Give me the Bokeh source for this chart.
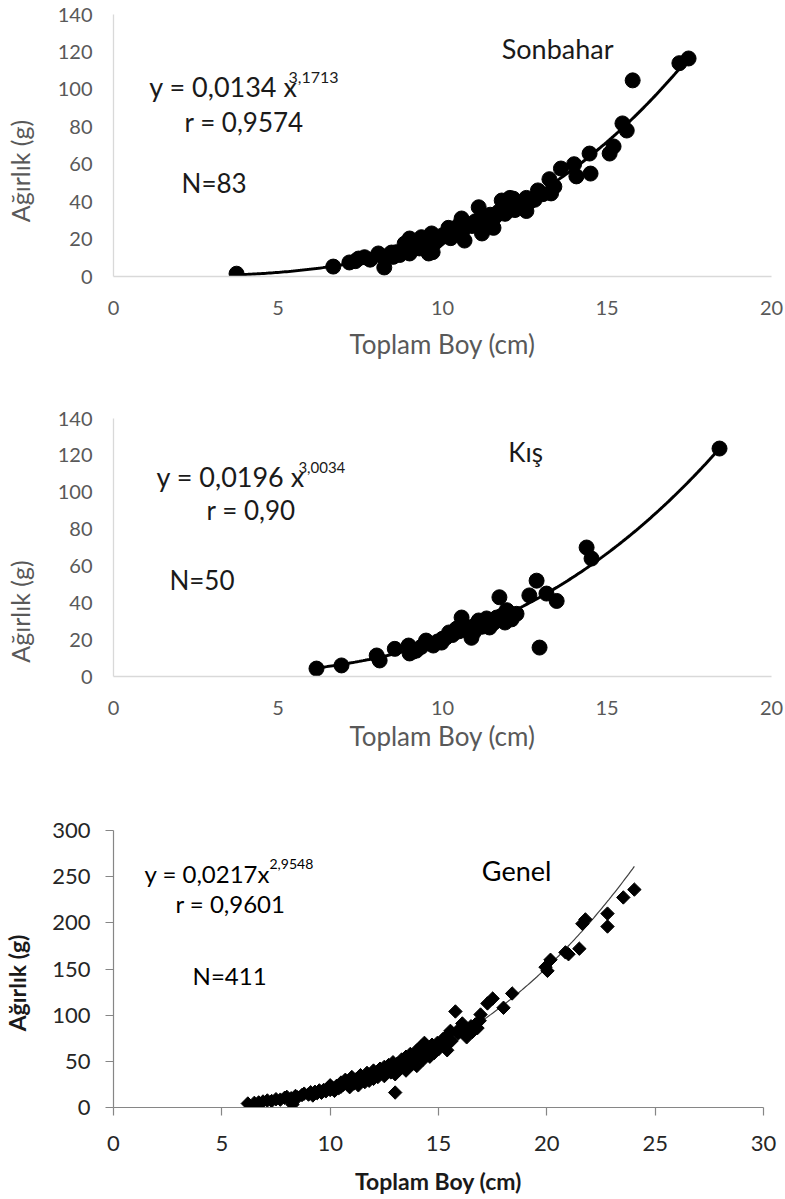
from bokeh.plotting import figure
from bokeh.layouts import column
from bokeh.models import Label, FixedTicker, Range1d
from bokeh.embed import file_html
from bokeh.resources import INLINE
import numpy as np

FONT = "Lato"

# ---------------- data: Sonbahar (autumn) ----------------
son_x = [3.74, 6.68, 7.17, 7.35, 7.45, 7.63, 7.8, 8.05, 8.15, 8.23, 8.3, 8.45, 8.5, 8.6, 8.7,
         8.85, 8.9, 9.0, 9.0, 9.1, 9.2, 9.25, 9.3, 9.36, 9.45, 9.5, 9.58, 9.67, 9.7, 9.8,
         9.9, 10.0, 10.1, 10.18, 10.25, 10.3, 10.4, 10.5, 10.58, 10.6, 10.67, 10.75, 10.9, 11.0,
         11.1, 11.15, 11.2, 11.25, 11.35, 11.45, 11.55, 11.6, 11.7, 11.8, 11.85, 11.9, 12.0, 12.05,
         12.15, 12.2, 12.3, 12.4, 12.55, 12.55, 12.65, 12.8, 12.9, 13.05, 13.25, 13.3, 13.4, 13.6,
         14.0, 14.07, 14.47, 14.5, 15.08, 15.2, 15.47, 15.6, 15.78, 17.2, 17.48]
son_y = [1.5, 5.3, 7.5, 8.2, 9.6, 10.3, 9.0, 12.3, 11.0, 4.8, 10.0, 12.8, 10.5, 13.0, 11.5,
         17.6, 14.0, 20.3, 12.3, 16.0, 15.5, 18.0, 15.0, 21.0, 19.0, 17.0, 12.3, 23.0, 13.0, 18.5,
         20.0, 22.0, 21.5, 26.0, 20.5, 23.0, 25.5, 27.5, 31.0, 24.0, 19.2, 28.0, 27.0, 29.5,
         37.0, 28.5, 23.0, 31.6, 30.0, 33.0, 26.0, 32.0, 34.5, 40.6, 36.0, 33.5, 37.0, 42.0,
         41.6, 35.5, 39.0, 38.0, 42.0, 35.0, 40.0, 41.0, 46.0, 44.0, 52.0, 44.4, 48.0, 57.7,
         60.0, 53.5, 65.7, 55.0, 65.7, 69.5, 81.8, 78.0, 104.8, 114.0, 116.5]

# ---------------- data: Kış (winter) ----------------
kis_x = [6.17, 6.93, 8.0, 8.09, 8.55, 8.97, 9.0, 9.1, 9.2, 9.35, 9.5, 9.6, 9.72, 9.85, 9.97,
         10.0, 10.1, 10.2, 10.3, 10.43, 10.5, 10.58, 10.67, 10.75, 10.82, 10.88, 10.95, 11.0, 11.1,
         11.2, 11.34, 11.43, 11.5, 11.55, 11.65, 11.73, 11.8, 11.9, 11.95, 12.0, 12.1, 12.25,
         12.64, 12.86, 12.95, 13.16, 13.47, 14.38, 14.53, 18.42]
kis_y = [4.3, 6.0, 11.4, 8.7, 15.0, 16.8, 12.5, 13.5, 14.0, 16.0, 19.5, 18.0, 16.8, 19.0, 18.4,
         20.5, 21.0, 23.9, 22.5, 26.0, 24.5, 32.0, 27.7, 25.0, 23.9, 21.0, 24.0, 28.0, 30.4,
         27.0, 31.5, 26.6, 30.5, 29.0, 32.0, 43.0, 33.0, 29.3, 36.0, 35.0, 31.0, 34.0,
         44.0, 52.0, 15.7, 45.0, 41.0, 70.0, 64.0, 123.7]

# ---------------- data: Genel (overall) ----------------
gen_x = [6.2, 6.5, 6.7, 6.9, 7.1, 7.3, 7.5, 7.7, 7.9, 8.0, 8.2, 8.26, 8.4, 8.5, 8.7, 8.8, 9.0,
         9.1, 9.2, 9.3, 9.4, 9.5, 9.6, 9.7, 9.8, 9.9, 10.0, 10.0, 10.1, 10.2, 10.3, 10.4, 10.5,
         10.5, 10.6, 10.7, 10.8, 10.9, 11.0, 11.0, 11.1, 11.2, 11.3, 11.4, 11.4, 11.5, 11.6, 11.7,
         11.8, 11.8, 11.9, 12.0, 12.0, 12.1, 12.2, 12.3, 12.4, 12.5, 12.5, 12.6, 12.7, 12.8, 12.9,
         13.0, 13.0, 13.0, 13.1, 13.2, 13.3, 13.4, 13.5, 13.5, 13.6, 13.7, 13.8, 13.9, 14.0, 14.0,
         14.1, 14.2, 14.3, 14.35, 14.4, 14.5, 14.6, 14.7, 14.8, 14.95, 15.0, 15.2, 15.3, 15.4,
         15.4, 15.55, 15.6, 15.78, 15.9, 16.0, 16.1, 16.2, 16.3, 16.5, 16.57, 16.7, 16.8, 16.9,
         16.94, 17.26, 17.5, 18.0, 18.4, 19.94, 20.03, 20.17, 20.86, 21.0, 21.5, 21.64, 21.78,
         22.8, 22.8, 23.53, 24.04]
gen_y = [4.3, 5.0, 5.5, 6.5, 7.6, 7.0, 9.0, 8.5, 10.5, 11.5, 10.0, 3.3, 12.5, 11.0, 13.5, 15.0, 14.0,
         16.5, 13.0, 17.0, 15.5, 18.5, 16.0, 19.0, 17.5, 21.0, 19.0, 24.0, 21.5, 18.0, 23.5, 21.0, 27.0,
         22.5, 24.5, 30.0, 25.0, 22.0, 28.5, 33.0, 26.0, 30.5, 24.0, 35.0, 29.0, 31.5, 27.5, 37.5,
         33.0, 29.0, 35.5, 40.0, 31.0, 36.5, 33.0, 42.0, 37.5, 44.0, 34.0, 40.5, 46.0, 38.0, 49.0,
         43.0, 16.2, 36.0, 47.5, 41.0, 52.0, 45.0, 55.0, 40.0, 49.5, 58.0, 47.0, 54.0, 62.0, 45.0,
         57.0, 66.0, 52.0, 70.0, 60.0, 65.0, 55.0, 68.0, 59.0, 70.0, 63.0, 74.0, 66.0, 78.0,
         62.0, 83.0, 72.0, 104.0, 80.0, 86.0, 91.0, 84.0, 76.0, 88.0, 82.0, 90.0, 86.0, 94.0,
         100.7, 112.7, 118.0, 108.0, 123.5, 152.0, 148.0, 160.0, 168.0, 166.0, 172.0, 199.0, 203.7,
         210.0, 196.0, 227.5, 236.0]

# trend-line coefficients shown on the chart
son_a, son_b = 0.0134, 3.1713
kis_a, kis_b = 0.0196, 3.0034
gen_a, gen_b = 0.0217, 2.9548

x_label = "Toplam Boy (cm)"
y_label = "Ağırlık (g)"
NBSP = "\u00a0"


def base_fig(frame_w, frame_h, left, top, right, bottom, xmax, ymax, xstep, ystep):
    p = figure(frame_width=frame_w, frame_height=frame_h,
               min_border_left=left, min_border_top=top,
               min_border_right=right, min_border_bottom=bottom,
               x_range=Range1d(0, xmax), y_range=Range1d(0, ymax),
               toolbar_location=None, output_backend="svg")
    p.outline_line_color = None
    p.grid.visible = False
    p.xaxis.ticker = FixedTicker(ticks=list(range(0, xmax + 1, xstep)))
    p.yaxis.ticker = FixedTicker(ticks=list(range(0, ymax + 1, ystep)))
    p.xaxis.axis_label = x_label
    for ax in (p.xaxis, p.yaxis):
        ax.major_label_text_font = FONT
        ax.axis_label_text_font = FONT
        ax.axis_label_text_font_style = "normal"
        ax.minor_tick_line_color = None
    return p


def add_text(p, x, y, txt, size, color="#1a1a1a"):
    p.add_layout(Label(x=x, y=y, text=txt, text_font=FONT, text_font_size=size,
                       text_color=color, text_baseline="alphabetic", text_align="left"))


def style_light(p):
    for ax in (p.xaxis, p.yaxis):
        ax.axis_line_color = "#d9d9d9"
        ax.axis_line_width = 1.3
        ax.major_tick_line_color = None
        ax.major_tick_out = 0
        ax.major_tick_in = 0
        ax.major_label_text_color = "#595959"
        ax.major_label_text_font_size = "20px"
        ax.axis_label_text_color = "#595959"
        ax.axis_label_text_font_size = "26px"
    p.yaxis.axis_label_text_font_size = "25px"
    p.xaxis.major_label_standoff = 24
    p.yaxis.major_label_standoff = 21
    p.yaxis.axis_label_standoff = 20


# ---------------- figure 1 : Sonbahar ----------------
p1 = base_fig(658, 262, 108, 14, 14, 104, 20, 140, 5, 20)
style_light(p1)
p1.xaxis.axis_label_standoff = 10
p1.yaxis.axis_label = y_label + NBSP * 8
cx = np.linspace(min(son_x), max(son_x), 200)
p1.line(cx, son_a * cx ** son_b, line_color="black", line_width=3)
p1.scatter(son_x, son_y, marker="circle", size=15, fill_color="black", line_color="black")
add_text(p1, 1.09, 101.5, "y = 0,0134 x", "27px")
add_text(p1, 5.32, 106.6, "3,1713", "16px")
add_text(p1, 2.16, 82.4, "r = 0,9574", "26px")
add_text(p1, 2.07, 49.9, "N=83", "26px")
add_text(p1, 11.8, 121.7, "Sonbahar", "27px")

# ---------------- figure 2 : Kış ----------------
p2 = base_fig(658, 258, 108, 38, 14, 104, 20, 140, 5, 20)
style_light(p2)
p2.xaxis.axis_label_standoff = 2
p2.yaxis.axis_label = y_label + NBSP * 20
cx = np.linspace(min(kis_x), max(kis_x), 200)
p2.line(cx, kis_a * cx ** kis_b, line_color="black", line_width=3)
p2.scatter(kis_x, kis_y, marker="circle", size=15, fill_color="black", line_color="black")
add_text(p2, 1.31, 108.5, "y = 0,0196 x", "27px")
add_text(p2, 5.62, 113.4, "3,0034", "15px")
add_text(p2, 2.83, 90.2, "r = 0,90", "26px")
add_text(p2, 1.70, 52.1, "N=50", "26px")
add_text(p2, 12.0, 121.7, "Kış", "26px")

# ---------------- figure 3 : Genel ----------------
p3 = base_fig(650, 277, 112, 50, 18, 90, 30, 300, 5, 50)
for ax in (p3.xaxis, p3.yaxis):
    ax.axis_line_color = "#868686"
    ax.axis_line_width = 1.2
    ax.major_tick_line_color = "#868686"
    ax.major_tick_line_width = 1.2
    ax.major_tick_out = 8
    ax.major_tick_in = 0
    ax.major_label_text_color = "#262626"
    ax.major_label_text_font_size = "22px"
    ax.axis_label_text_color = "#1a1a1a"
    ax.axis_label_text_font_size = "23px"
    ax.axis_label_text_font_style = "bold"
p3.xaxis.major_label_standoff = 20
p3.xaxis.axis_label_standoff = 13
p3.yaxis.major_label_standoff = 15
p3.yaxis.axis_label_standoff = 18
p3.yaxis.axis_label = y_label + NBSP * 5
cx = np.linspace(min(gen_x), max(gen_x), 200)
p3.line(cx, gen_a * cx ** gen_b, line_color="#404040", line_width=1.2)
p3.scatter(gen_x, gen_y, marker="square", angle=np.pi / 4, size=9.5,
           fill_color="black", line_color="black")
add_text(p3, 1.43, 253.5, "y = 0,0217x", "24px", "black")
add_text(p3, 7.2, 263.5, "2,9548", "14px", "black")
add_text(p3, 2.86, 221.0, "r = 0,9601", "24px", "black")
add_text(p3, 3.65, 143.0, "N=411", "24px", "black")
add_text(p3, 17.0, 256.8, "Genel", "27px", "black")

layout = column(p1, p2, p3, spacing=0)
open("out.html", "w").write(file_html(layout, INLINE))
